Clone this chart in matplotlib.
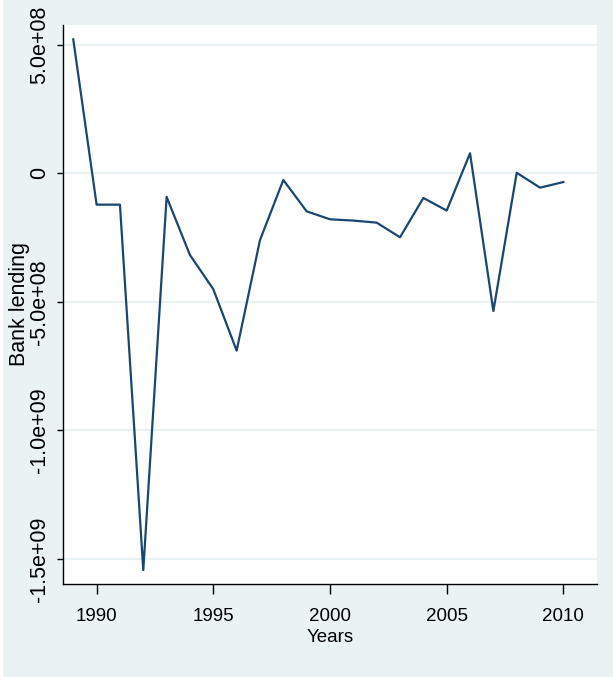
import numpy as np
import matplotlib.pyplot as plt
from matplotlib.patches import Rectangle

# data
years = np.arange(1989, 2011)
lending = [5.21e8, -1.22e8, -1.22e8, -1.544e9, -9.2e7, -3.18e8, -4.51e8,
           -6.90e8, -2.60e8, -2.6e7, -1.48e8, -1.79e8, -1.84e8, -1.92e8,
           -2.49e8, -9.6e7, -1.45e8, 7.8e7, -5.36e8, 2e6, -5.6e7, -3.4e7]
yticks = [5e8, 0, -5e8, -1e9, -1.5e9]
ytick_labels = ['5.0e+08', '0', '-5.0e+08', '-1.0e+09', '-1.5e+09']
xticks = [1990, 1995, 2000, 2005, 2010]

bg = '#EAF2F3'
navy = '#1A476F'

fig = plt.figure(figsize=(6.13, 6.77), dpi=100, facecolor='white')
fig.patches.append(Rectangle((3 / 613, 0), 1, 1, transform=fig.transFigure,
                             facecolor=bg, edgecolor='none', zorder=-10))

ax = fig.add_axes([63 / 613, 93 / 677, 534 / 613, 559 / 677])
ax.set_facecolor('white')

ax.plot(years, lending, color=navy, linewidth=1.6, zorder=3)

ax.set_xlim(1988.56, 2011.44)
ax.set_ylim(-1.598e9, 5.77e8)

ax.set_yticks(yticks)
ax.set_yticklabels(ytick_labels, rotation=90, va='center',
                   family='Liberation Sans', fontsize=15.5)
ax.set_xticks(xticks)
ax.set_xticklabels([str(x) for x in xticks], family='Liberation Sans',
                   fontsize=13.5)

ax.grid(axis='y', color=bg, linewidth=1.5, zorder=0)
ax.set_axisbelow(True)

for s in ['top', 'right']:
    ax.spines[s].set_visible(False)
for s in ['left', 'bottom']:
    ax.spines[s].set_linewidth(1.0)
    ax.spines[s].set_color('black')

ax.tick_params(axis='y', length=4.5, width=1.0, pad=5)
ax.tick_params(axis='x', length=7, width=1.0, pad=10)

ax.set_xlabel('Years', family='Liberation Sans', fontsize=13.5, labelpad=3)
ax.set_ylabel('Bank lending', family='Liberation Sans', fontsize=15.5)
ax.yaxis.set_label_coords(-0.062, 0.5)

fig.savefig('out.png', dpi=100, facecolor=fig.get_facecolor())
